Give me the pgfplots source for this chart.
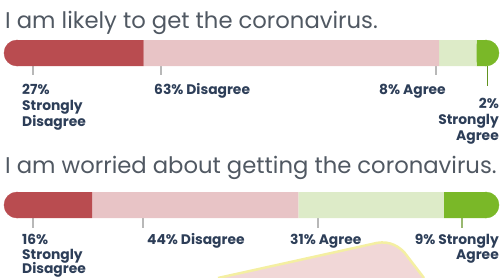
\documentclass[border=0pt]{standalone}
\usepackage{pgfplots}
\pgfplotsset{compat=1.18}
\usepackage{fontspec}
\setmainfont{Poppins}
\definecolor{sdis}{HTML}{B94C50}
\definecolor{dis}{HTML}{E8C4C6}
\definecolor{agr}{HTML}{DDEBC8}
\definecolor{sagr}{HTML}{7AB828}
\definecolor{lab}{HTML}{2D3E58}
\definecolor{ttl}{HTML}{505862}
\definecolor{tickc}{HTML}{B8B8B8}
\definecolor{bubblefill}{HTML}{F1D7D7}
\definecolor{bubbleline}{HTML}{F4EFA2}
\begin{document}
\begin{tikzpicture}
\useasboundingbox (0,0) rectangle (502bp,-278bp);
\pgfplotsset{base/.style={scale only axis, width=502bp, height=278bp,
  xmin=-3.6247, xmax=103.412, ymin=0, ymax=278, y dir=reverse,
  hide axis, clip=false, anchor=north west, at={(0,0)}}}
% decoration
\fill[bubblefill] (218bp,-278bp) -- (372bp,-244bp) .. controls (386bp,-240bp) and (396bp,-244bp) .. (404bp,-252bp) -- (424bp,-278bp) -- cycle;
\draw[bubbleline, line width=2.5bp] (218bp,-278bp) -- (372bp,-244bp) .. controls (386bp,-240bp) and (396bp,-244bp) .. (404bp,-252bp) -- (424bp,-278bp);
% caps and tick lines
\begin{axis}[base]
\addplot[only marks, mark=*, mark size=13bp, color=sdis] coordinates {(0,53) (0,205)};
\addplot[only marks, mark=*, mark size=13bp, color=sagr] coordinates {(100,53) (100,205)};
\addplot[tickc, line width=1.2bp] coordinates {(3.41,66) (3.41,75)};
\addplot[tickc, line width=1.2bp] coordinates {(30.70,66) (30.70,75)};
\addplot[tickc, line width=1.2bp] coordinates {(89.34,66) (89.34,75)};
\addplot[sagr!80!black, line width=1.2bp] coordinates {(100.4,66) (100.4,86)};
\addplot[tickc, line width=1.2bp] coordinates {(3.41,218) (3.41,228)};
\addplot[tickc, line width=1.2bp] coordinates {(26.87,218) (26.87,228)};
\addplot[tickc, line width=1.2bp] coordinates {(64.18,218) (64.18,228)};
\addplot[sagr!50!tickc, line width=1.2bp] coordinates {(94.88,218) (94.88,228)};
\end{axis}
% stacked bars
\begin{axis}[base, xbar stacked, bar width=26bp]
\addplot[fill=sdis, draw=none] coordinates {(27,53) (16,205)};
\addplot[fill=dis, draw=none] coordinates {(63,53) (44,205)};
\addplot[fill=agr, draw=none] coordinates {(8,53) (31,205)};
\addplot[fill=sagr, draw=none] coordinates {(2,53) (9,205)};
\end{axis}
% titles
\tikzset{t/.style={inner sep=0, anchor=base west, text=ttl, font=\fontsize{22.8}{26}\selectfont},
 l/.style={inner sep=0, anchor=base west, text=lab, font=\fontsize{13.9}{16}\selectfont\bfseries},
 r/.style={inner sep=0, anchor=base east, text=lab, font=\fontsize{13.9}{16}\selectfont\bfseries}}
\node[t] at (5bp,-28bp) {I am likely to get the coronavirus.};
\node[t] at (5bp,-173bp) {I am worried about getting the coronavirus.};
% labels bar 1
\node[l] at (22bp,-94bp) {27\%};
\node[l] at (22bp,-110bp) {Strongly};
\node[l] at (22bp,-126bp) {Disagree};
\node[l] at (154bp,-94bp) {63\% Disagree};
\node[l] at (379bp,-94bp) {8\% Agree};
\node[r] at (499bp,-108bp) {2\%};
\node[r] at (499bp,-124bp) {Strongly};
\node[r] at (499bp,-140bp) {Agree};
% labels bar 2
\node[l] at (22bp,-244.5bp) {16\%};
\node[l] at (22bp,-259.5bp) {Strongly};
\node[l] at (22bp,-273.5bp) {Disagree};
\node[l] at (147bp,-244.5bp) {44\% Disagree};
\node[l] at (290bp,-244.5bp) {31\% Agree};
\node[r] at (499bp,-244.5bp) {9\% Strongly};
\node[r] at (499bp,-259.5bp) {Agree};
\end{tikzpicture}
\end{document}
